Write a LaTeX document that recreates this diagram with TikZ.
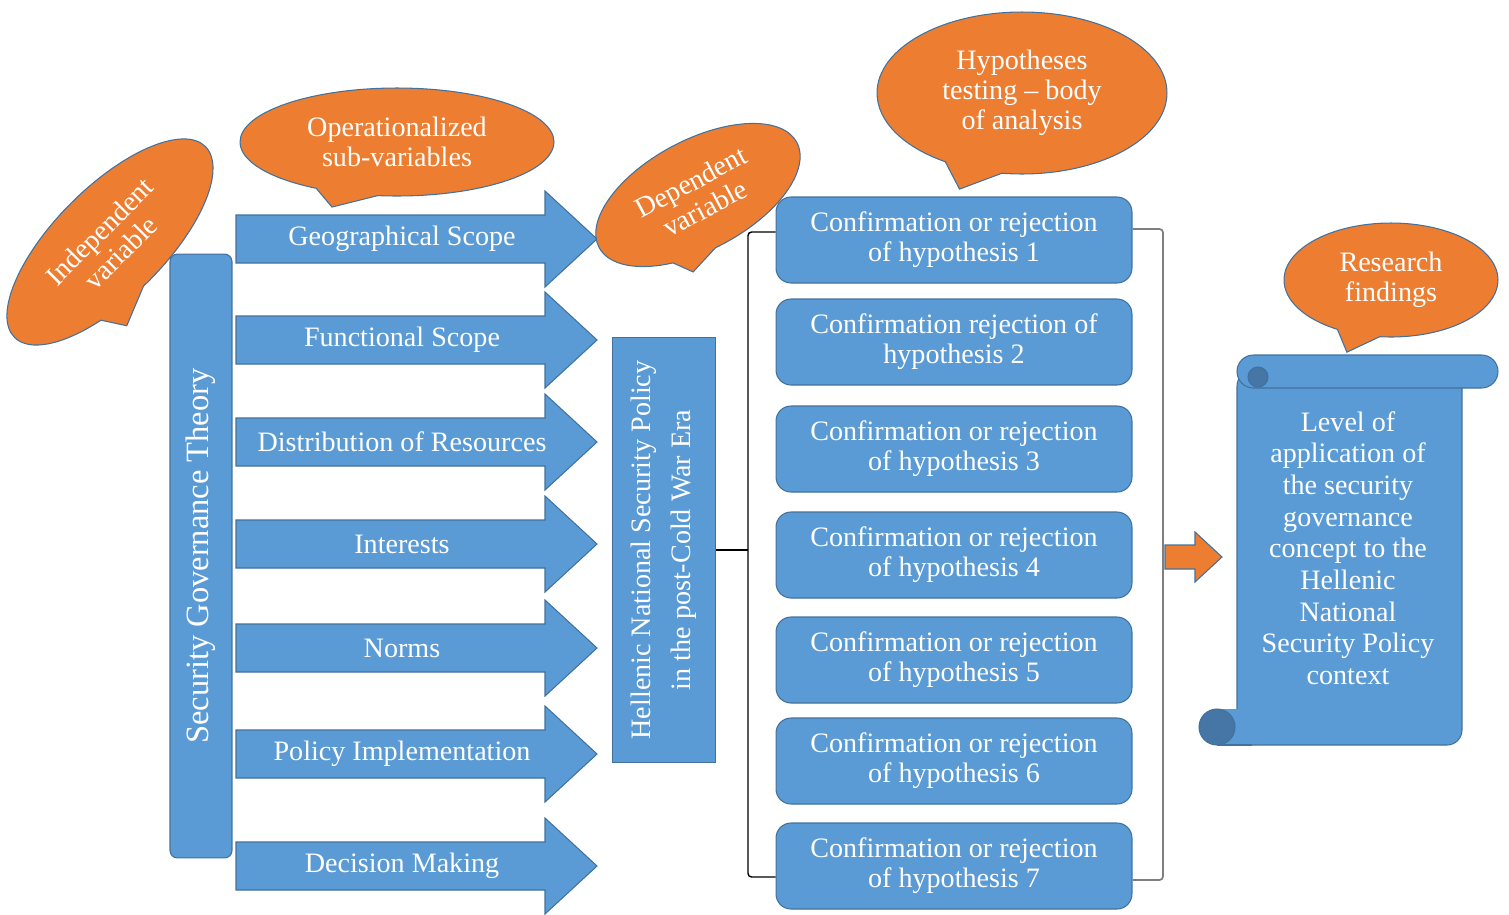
\documentclass[tikz,border=0pt]{standalone}
\usepackage{fontspec}
\setmainfont{Liberation Serif}
\usetikzlibrary{shapes.callouts}

\definecolor{boxblue}{HTML}{5B9BD5}
\definecolor{edgeblue}{HTML}{41719C}
\definecolor{curlblue}{HTML}{4676A6}
\definecolor{bubbleorange}{HTML}{ED7D31}
\definecolor{bracketgray}{HTML}{7F7F7F}

\tikzstyle{whitetext} = [text=white,font=\fontsize{16}{17}\selectfont,align=center]
\tikzstyle{subarrow} = [fill=boxblue,draw=edgeblue,line width=0.6pt]
\tikzstyle{hypbox} = [whitetext,fill=boxblue,draw=edgeblue,line width=0.6pt,rounded corners=0.3cm,minimum width=7.12cm,minimum height=1.72cm,inner sep=0pt]
\tikzstyle{bubble} = [whitetext,ellipse callout,fill=bubbleorange,draw=edgeblue,line width=0.6pt,inner sep=0pt,callout pointer arc=24]
\tikzstyle{scrollpart} = [fill=boxblue,draw=edgeblue,line width=0.6pt]

\begin{document}
\begin{tikzpicture}[x=0.02cm,y=-0.02cm]
\useasboundingbox (0,0) rectangle (1509,914);

% sub-variable arrows
\foreach \y/\lbl [count=\i] in {239/Geographical Scope,340/Functional Scope,442/Distribution of Resources,544/Interests,648/Norms,754/Policy Implementation,866/Decision Making}{
	\draw[subarrow] (236,\y-24) -- (545,\y-24) -- (545,\y-48) -- (597,\y) -- (545,\y+48) -- (545,\y+24) -- (236,\y+24) -- cycle;
	\node[whitetext] (sub\i) at (402,\y) {\lbl};
}

% speech bubbles (pointer measured from the ellipse rim)
\node[bubble,rotate=45,minimum width=5.4cm,minimum height=2.2cm,callout relative pointer={(-12,18)}] (indep) at (110,242) {Independent\\variable};
\node[bubble,minimum width=6.28cm,minimum height=2.16cm,callout relative pointer={(-14,14)}] (oper) at (397,142) {Operationalized\\sub-variables};
\node[bubble,rotate=28,minimum width=4.48cm,minimum height=2.2cm,callout relative pointer={(-8,13)}] (depvar) at (698,195) {Dependent\\variable};
\node[bubble,minimum width=5.8cm,minimum height=3.24cm,callout relative pointer={(-13,20)}] (testing) at (1022,93) {Hypotheses\\testing -- body\\of analysis};
\node[bubble,minimum width=4.28cm,minimum height=2.28cm,callout relative pointer={(-11,18)}] (results) at (1391,280) {Research\\findings};

% theory and policy bars
\node[whitetext,fill=boxblue,draw=edgeblue,line width=0.6pt,rounded corners=0.15cm,rotate=90,minimum width=12.08cm,minimum height=1.24cm,font=\fontsize{18.5}{20}\selectfont] (theory) at (201,556) {Security Governance Theory};
\node[whitetext,fill=boxblue,draw=edgeblue,line width=0.6pt,rotate=90,minimum width=8.52cm,minimum height=2.06cm,font=\fontsize{16}{22.7}\selectfont] (dep) at (664,550) {Hellenic National Security Policy\\in the post-Cold War Era};

% hypotheses
\foreach \y/\lbl [count=\i] in {240/{Confirmation or rejection\\of hypothesis 1},342/{Confirmation rejection of\\hypothesis 2},449/{Confirmation or rejection\\of hypothesis 3},555/{Confirmation or rejection\\of hypothesis 4},660/{Confirmation or rejection\\of hypothesis 5},761/{Confirmation or rejection\\of hypothesis 6},866/{Confirmation or rejection\\of hypothesis 7}}{
	\node[hypbox] (hyp\i) at (954,\y) {\lbl};
}

% brackets
\coordinate (lb) at (748,550);
\coordinate (rb) at (1163,557);
\draw[black,line width=0.8pt,rounded corners=2pt] ([yshift=0.16cm]hyp1.west) -| (lb) |- ([yshift=-0.22cm]hyp7.west);
\draw[black,line width=0.8pt] (dep.south) -- (lb);
\draw[bracketgray,line width=1pt,rounded corners=2pt] ([yshift=0.22cm]hyp1.east) -| (rb) |- ([yshift=-0.28cm]hyp7.east);

% arrow to findings
\begin{scope}[shift={(rb)}]
	\draw[fill=bubbleorange,draw=edgeblue,line width=0.6pt] (2,-12) -- (32,-12) -- (32,-25) -- (59,0) -- (32,25) -- (32,12) -- (2,12) -- cycle;
\end{scope}

% scroll
\draw[scrollpart,rounded corners=0.3cm] (1237,371) rectangle (1462,745);
\fill[boxblue] (1217,709) rectangle (1252,744.6);
\draw[edgeblue,line width=0.6pt] (1217,745) -- (1252,745);
\draw[scrollpart,fill=curlblue] (1217,727) circle (18);
\draw[scrollpart,rounded corners=0.33cm] (1237,355) rectangle (1498,388);
\draw[scrollpart,fill=curlblue] (1258,377) circle (10);
\node[whitetext,font=\fontsize{16}{18}\selectfont] (findings) at (1348,548) {Level of\\application of\\the security\\governance\\concept to the\\Hellenic\\National\\Security Policy\\context};
\end{tikzpicture}
\end{document}
